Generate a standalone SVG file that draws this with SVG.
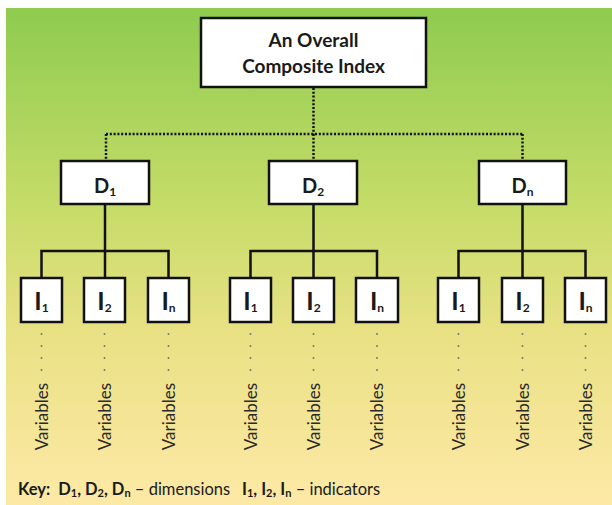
<svg xmlns="http://www.w3.org/2000/svg" width="612" height="505" viewBox="0 0 612 505">
<defs>
<linearGradient id="bg" x1="0" y1="0" x2="0" y2="1">
<stop offset="0" stop-color="#8ecb4f"/>
<stop offset="0.4" stop-color="#c6dc68"/>
<stop offset="0.65" stop-color="#e9e184"/>
<stop offset="1" stop-color="#fde9a6"/>
</linearGradient>
<style>
.box{fill:#fff;stroke:#111;stroke-width:2.5}
.ln{fill:none;stroke:#111;stroke-width:2.5}
.dot{fill:none;stroke:#111;stroke-width:2.5;stroke-dasharray:2 1.8}
.vd{fill:none;stroke:#777;stroke-width:2;stroke-linecap:round;stroke-dasharray:0 12}
.t{font-family:Lato,"Liberation Sans",sans-serif;font-weight:bold;fill:#1a1a1a;text-anchor:middle}
.big{font-size:19px}
.d{font-size:20px}
.i{font-size:25px}
.sub{font-size:12px}
.var{font-family:Lato,"Liberation Sans",sans-serif;font-size:17px;fill:#2a2a2a;text-anchor:middle}
.key{font-family:Lato,"Liberation Sans",sans-serif;font-size:16.5px;fill:#1a1a1a;white-space:pre}
.ks{font-size:11px}
.b{font-weight:bold}
</style>
</defs>
<rect x="0" y="0" width="612" height="505" fill="#fff"/>
<rect x="6" y="8" width="606" height="497" fill="url(#bg)"/>

<g id="connectors">
<path class="dot" d="M313.5 88V134M106 134H522.5M106 134V160M313.5 134V160M522.5 134V160"/>
<path class="ln" d="M105 204V251M41.5 278V251H168.5V278M105 251V278"/>
<path class="ln" d="M313.5 204V251M250.5 278V251H377V278M313.5 251V278"/>
<path class="ln" d="M522.5 204V251M458.5 278V251H585.5V278M522.5 251V278"/>
</g>

<g id="composite">
<rect class="box" x="201" y="18" width="225" height="69"/>
<text class="t big" x="313.5" y="47">An Overall</text>
<text class="t big" x="313.5" y="73">Composite Index</text>
</g>

<g id="D1"><rect class="box" x="61" y="161" width="88" height="43"/><text class="t d" x="105" y="193">D<tspan class="sub" dy="3">1</tspan></text></g>
<g id="D2"><rect class="box" x="269" y="161" width="88" height="43"/><text class="t d" x="313" y="193">D<tspan class="sub" dy="3">2</tspan></text></g>
<g id="Dn"><rect class="box" x="479" y="161" width="87" height="43"/><text class="t d" x="522.5" y="193">D<tspan class="sub" dy="3">n</tspan></text></g>

<g id="D1-I1"><rect class="box" x="21" y="278" width="41" height="44"/><text class="t i" x="41.5" y="310">I<tspan class="sub" dy="2">1</tspan></text></g>
<g id="D1-I2"><rect class="box" x="84" y="278" width="41" height="44"/><text class="t i" x="104.5" y="310">I<tspan class="sub" dy="2">2</tspan></text></g>
<g id="D1-In"><rect class="box" x="148" y="278" width="41" height="44"/><text class="t i" x="168.5" y="310">I<tspan class="sub" dy="2">n</tspan></text></g>
<g id="D2-I1"><rect class="box" x="230" y="278" width="41" height="44"/><text class="t i" x="250.5" y="310">I<tspan class="sub" dy="2">1</tspan></text></g>
<g id="D2-I2"><rect class="box" x="293" y="278" width="41" height="44"/><text class="t i" x="313.5" y="310">I<tspan class="sub" dy="2">2</tspan></text></g>
<g id="D2-In"><rect class="box" x="356" y="278" width="42" height="44"/><text class="t i" x="377" y="310">I<tspan class="sub" dy="2">n</tspan></text></g>
<g id="Dn-I1"><rect class="box" x="438" y="278" width="41" height="44"/><text class="t i" x="458.5" y="310">I<tspan class="sub" dy="2">1</tspan></text></g>
<g id="Dn-I2"><rect class="box" x="502" y="278" width="41" height="44"/><text class="t i" x="522.5" y="310">I<tspan class="sub" dy="2">2</tspan></text></g>
<g id="Dn-In"><rect class="box" x="565" y="278" width="41" height="44"/><text class="t i" x="585.5" y="310">I<tspan class="sub" dy="2">n</tspan></text></g>

<g id="variables">
<path class="vd" d="M41.5 334V371M104.5 334V371M168.5 334V371M250.5 334V371M313.5 334V371M377 334V371M458.5 334V371M522.5 334V371M585.5 334V371"/>
<text class="var" transform="translate(47.5 416.5) rotate(-90)">Variables</text>
<text class="var" transform="translate(110.5 416.5) rotate(-90)">Variables</text>
<text class="var" transform="translate(174.5 416.5) rotate(-90)">Variables</text>
<text class="var" transform="translate(256.5 416.5) rotate(-90)">Variables</text>
<text class="var" transform="translate(319.5 416.5) rotate(-90)">Variables</text>
<text class="var" transform="translate(383 416.5) rotate(-90)">Variables</text>
<text class="var" transform="translate(464.5 416.5) rotate(-90)">Variables</text>
<text class="var" transform="translate(528.5 416.5) rotate(-90)">Variables</text>
<text class="var" transform="translate(591.5 416.5) rotate(-90)">Variables</text>
</g>

<g id="key">
<text class="key" x="18" y="495"><tspan class="b">Key:  D</tspan><tspan class="b ks" dy="2">1</tspan><tspan class="b" dy="-2">, D</tspan><tspan class="b ks" dy="2">2</tspan><tspan class="b" dy="-2">, D</tspan><tspan class="b ks" dy="2">n</tspan><tspan dy="-2"> – dimensions</tspan></text>
<text class="key" x="242" y="495"><tspan class="b">I</tspan><tspan class="b ks" dy="2">1</tspan><tspan class="b" dy="-2">, I</tspan><tspan class="b ks" dy="2">2</tspan><tspan class="b" dy="-2">, I</tspan><tspan class="b ks" dy="2">n</tspan><tspan dy="-2"> – indicators</tspan></text>
</g>
</svg>
